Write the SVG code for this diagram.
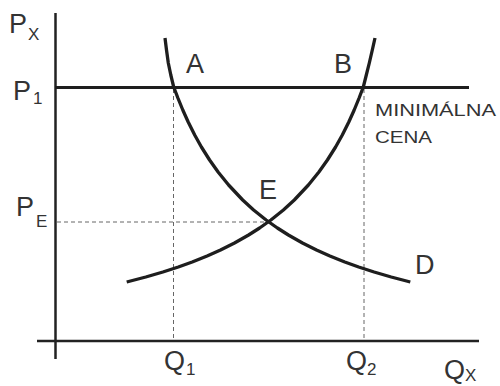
<svg xmlns="http://www.w3.org/2000/svg" width="500" height="386" viewBox="0 0 500 386">
<style>
.ax{stroke:#222;stroke-width:2.5;fill:none}
.cv{stroke:#1e1e1e;stroke-width:3.3;fill:none;stroke-linejoin:round;stroke-linecap:butt}
.ds{stroke:#666;stroke-width:1;stroke-dasharray:4 3;fill:none}
.t{font-family:"Liberation Sans",Arial,sans-serif;font-size:27px;fill:#333}
.s{font-family:"Liberation Sans",Arial,sans-serif;font-size:17px;fill:#333}
.m{font-family:"Liberation Sans",Arial,sans-serif;font-size:17px;fill:#333}
</style>
<rect width="500" height="386" fill="#fff"/>
<g id="guides">
<line class="ds" x1="173.5" y1="89" x2="173.5" y2="340"/>
<line class="ds" x1="364" y1="89" x2="364" y2="340"/>
<line class="ds" x1="57" y1="222" x2="266" y2="222"/>
</g>
<g id="axes">
<line class="ax" x1="55.5" y1="13" x2="55.5" y2="359"/>
<line class="ax" x1="37" y1="341" x2="479" y2="341"/>
</g>
<g id="price-floor">
<line x1="55" y1="87.5" x2="469" y2="87.5" stroke="#1e1e1e" stroke-width="3.2"/>
</g>
<g id="demand">
<polyline class="cv" points="165,38 166.5,50 168.3,63 170.8,75 173.7,87 177.9,98 182.8,110 188.2,122 194.7,135 201.4,147 209.6,160 218.1,172 228.6,185 242.7,200 253.6,210 266.1,220 277.4,228 288.4,235 302.5,243 316.5,250 329.9,256 344.8,262 358.7,267 374.1,272 391.2,277 410.3,282"/>
</g>
<g id="supply">
<polyline class="cv" points="375,38 372.3,50 369.3,63 366.3,75 363.3,87 359.1,98 354.2,110 348.8,122 342.3,135 335.6,147 327.4,160 318.9,172 308.4,185 294.3,200 283.4,210 270.9,220 259.6,228 248.6,235 234.5,243 220.5,250 207.1,256 192.2,262 178.3,267 162.9,272 145.8,277 126.7,282"/>
</g>
<g id="labels">
<text class="t" x="9" y="33">P</text><text class="s" x="28" y="40">X</text>
<text class="t" x="13" y="100">P</text><text class="s" x="33" y="104">1</text>
<text class="t" x="16" y="216">P</text><text class="s" x="36" y="227">E</text>
<text class="t" x="186" y="73">A</text>
<text class="t" x="334" y="73">B</text>
<text class="t" x="259" y="199">E</text>
<text class="t" x="415" y="274">D</text>
<text class="t" x="164" y="370">Q</text><text class="s" x="186" y="375">1</text>
<text class="t" x="346" y="370">Q</text><text class="s" x="367" y="375">2</text>
<text class="t" x="444" y="379">Q</text><text class="s" x="465" y="381">X</text>
<text class="m" x="375" y="116" textLength="121" lengthAdjust="spacingAndGlyphs">MINIMÁLNA</text>
<text class="m" x="375" y="143" textLength="57" lengthAdjust="spacingAndGlyphs">CENA</text>
</g>
</svg>
